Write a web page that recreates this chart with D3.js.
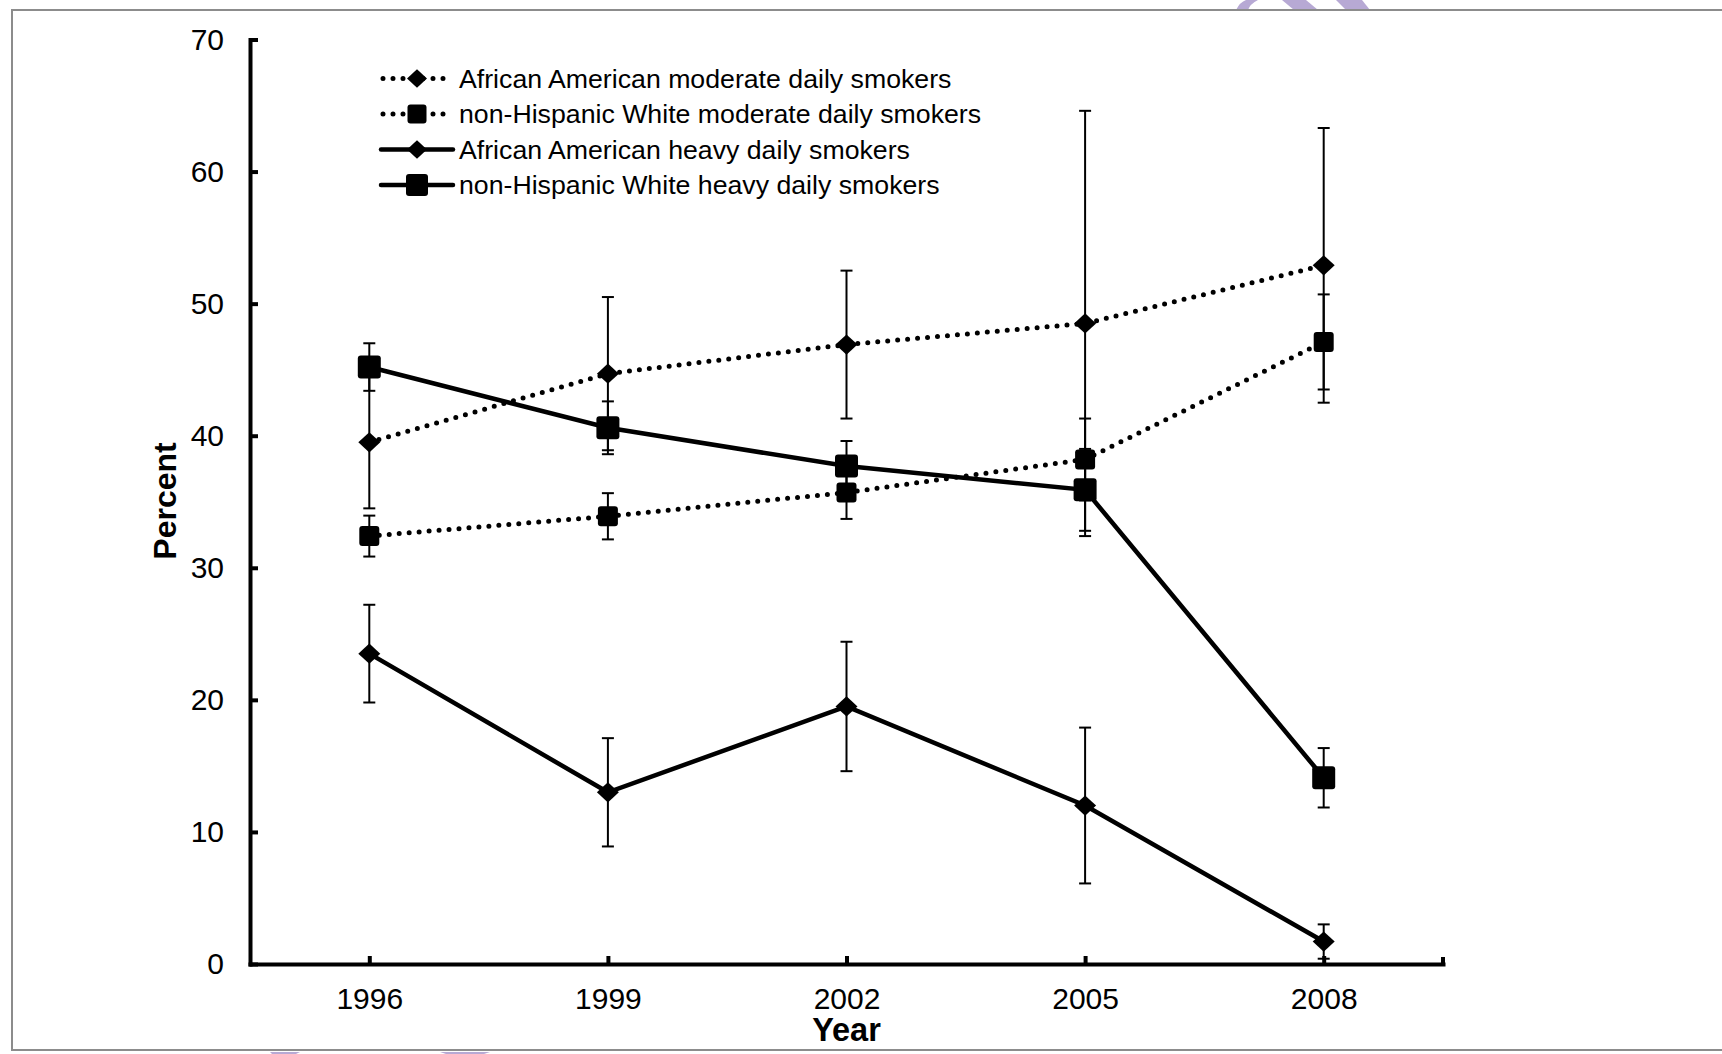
<!DOCTYPE html>
<html>
<head>
  <title>Daily smokers by year</title>
  <style>
    body { margin: 0; background: #fff; }
    svg { display: block; font-family: "Liberation Sans", Arial, sans-serif; }
    .axis path, .axis line { stroke: #000; stroke-width: 4; }
    .axis text { font-size: 30px; fill: #000; }
  </style>
</head>
<body>
  <div id="chart"></div>

  <script src="https://d3js.org/d3.v7.min.js"></script>
  <script>
    // Data
    const years = ["1996", "1999", "2002", "2005", "2008"];
    const yTicks = [0, 10, 20, 30, 40, 50, 60, 70];

    const aaModerate = [39.5, 44.7, 46.9, 48.5, 52.9];
    const aaModerateErr = [5.0, 5.8, 5.6, 16.1, 10.4];
    const nhwModerate = [32.4, 33.9, 35.7, 38.2, 47.1];
    const nhwModerateErr = [1.55, 1.75, 2.0, 3.1, 3.6];
    const aaHeavy = [23.5, 13.0, 19.5, 12.0, 1.7];
    const aaHeavyErr = [3.7, 4.1, 4.9, 5.9, 1.3];
    const nhwHeavy = [45.2, 40.6, 37.7, 35.9, 14.1];
    const nhwHeavyErr = [1.8, 2.0, 1.9, 3.1, 2.25];

    const seriesNames = [
      "African American moderate daily smokers",
      "non-Hispanic White moderate daily smokers",
      "African American heavy daily smokers",
      "non-Hispanic White heavy daily smokers"
    ];

    const series = [
      { name: seriesNames[0], values: aaModerate, err: aaModerateErr, dotted: true, marker: "diamond", size: 11 },
      { name: seriesNames[1], values: nhwModerate, err: nhwModerateErr, dotted: true, marker: "square", size: 10 },
      { name: seriesNames[2], values: aaHeavy, err: aaHeavyErr, dotted: false, marker: "diamond", size: 11 },
      { name: seriesNames[3], values: nhwHeavy, err: nhwHeavyErr, dotted: false, marker: "square", size: 11.5 }
    ];

    const width = 1722, height = 1054;

    const svg = d3.select("#chart")
      .append("svg")
      .attr("width", width)
      .attr("height", height);

    // faint watermark slivers at top and bottom edges
    const wm = svg.append("g").attr("fill", "#b7a9d4");
    wm.append("path").attr("d", "M1236,10 Q1240,2 1246,0 L1258,0 Q1250,4 1248,10 Z");
    wm.append("path").attr("d", "M1282,0 L1306,0 L1318,10 L1294,10 Z");
    wm.append("path").attr("d", "M1336,0 L1362,0 L1370,10 L1346,10 Z");
    wm.append("path").attr("d", "M270,1052 L300,1052 L296,1054 L272,1054 Z");
    wm.append("path").attr("d", "M440,1052 L490,1052 L484,1054 L446,1054 Z");

    // grey frame
    svg.append("path")
      .attr("d", "M1722,10 L12,10 L12,1050 L1722,1050")
      .attr("fill", "none")
      .attr("stroke", "#8c8c8c")
      .attr("stroke-width", 2);

    // Scales
    const x = d3.scalePoint()
      .domain(years)
      .range([250, 1443])
      .padding(0.5);

    const y = d3.scaleLinear()
      .domain([0, 70])
      .range([964, 39.5]);

    // Axes
    svg.append("g")
      .attr("class", "axis")
      .attr("transform", "translate(250,0)")
      .call(d3.axisLeft(y).tickValues(yTicks).tickSize(-8).tickSizeOuter(0).tickPadding(26))
      .call(g => g.selectAll("path").attr("stroke-linecap", "square"));

    svg.append("g")
      .attr("class", "axis")
      .attr("transform", "translate(0,964)")
      .call(d3.axisBottom(x).tickSize(-8).tickSizeOuter(0).tickPadding(24))
      .call(g => g.selectAll("path").attr("stroke-linecap", "square"));

    // small end tick on the category axis
    svg.append("line")
      .attr("x1", x.range()[1]).attr("x2", x.range()[1])
      .attr("y1", 964).attr("y2", 957)
      .attr("stroke", "#000").attr("stroke-width", 4);

    // Axis titles
    svg.append("text")
      .attr("transform", "translate(176,501) rotate(-90)")
      .attr("text-anchor", "middle")
      .attr("font-size", 32)
      .attr("font-weight", "bold")
      .text("Percent");

    svg.append("text")
      .attr("x", x("2002"))
      .attr("y", 1041)
      .attr("text-anchor", "middle")
      .attr("font-size", 32.5)
      .attr("font-weight", "bold")
      .text("Year");

    function drawMarker(g, type, s, cx, cy) {
      if (type === "diamond") {
        const h = s * 0.92;
        g.append("path")
          .attr("d", `M0,${-h} L${s},0 L0,${h} L${-s},0 Z`)
          .attr("transform", `translate(${cx},${cy})`)
          .attr("fill", "#000");
      } else {
        g.append("rect")
          .attr("x", cx - s).attr("y", cy - s)
          .attr("width", 2 * s).attr("height", 2 * s)
          .attr("rx", 3)
          .attr("fill", "#000");
      }
    }

    // Error bars
    const errG = svg.append("g").attr("stroke", "#000").attr("stroke-width", 2);
    series.forEach(s => {
      years.forEach((yr, i) => {
        const cx = x(yr);
        const lo = y(s.values[i] - s.err[i]);
        const hi = y(s.values[i] + s.err[i]);
        errG.append("line").attr("x1", cx).attr("x2", cx).attr("y1", lo).attr("y2", hi);
        errG.append("line").attr("x1", cx - 6).attr("x2", cx + 6).attr("y1", lo).attr("y2", lo);
        errG.append("line").attr("x1", cx - 6).attr("x2", cx + 6).attr("y1", hi).attr("y2", hi);
      });
    });

    // Lines
    const line = d3.line()
      .x((d, i) => x(years[i]))
      .y(d => y(d));

    series.forEach(s => {
      svg.append("path")
        .datum(s.values)
        .attr("d", line)
        .attr("fill", "none")
        .attr("stroke", "#000")
        .attr("stroke-width", s.dotted ? 5 : 4.5)
        .attr("stroke-linecap", "round")
        .attr("stroke-dasharray", s.dotted ? "0 10" : null);
    });

    // Markers
    const markG = svg.append("g");
    series.forEach(s => {
      years.forEach((yr, i) => drawMarker(markG, s.marker, s.size, x(yr), y(s.values[i])));
    });

    // Legend
    const legendRows = [78.5, 114, 149.5, 185];
    const legend = svg.append("g");
    series.forEach((s, i) => {
      const ly = legendRows[i];
      legend.append("line")
        .attr("x1", s.dotted ? 383 : 381).attr("x2", 453)
        .attr("y1", ly).attr("y2", ly)
        .attr("stroke", "#000")
        .attr("stroke-width", s.dotted ? 5 : 4.5)
        .attr("stroke-linecap", "round")
        .attr("stroke-dasharray", s.dotted ? "0 10" : null);
      drawMarker(legend, s.marker, s.marker === "diamond" ? 10 : (s.dotted ? 9.5 : 11), 417, ly);
      legend.append("text")
        .attr("x", 459)
        .attr("y", ly)
        .attr("dy", "0.35em")
        .attr("font-size", 26.7)
        .text(s.name);
    });
  </script>
</body>
</html>
